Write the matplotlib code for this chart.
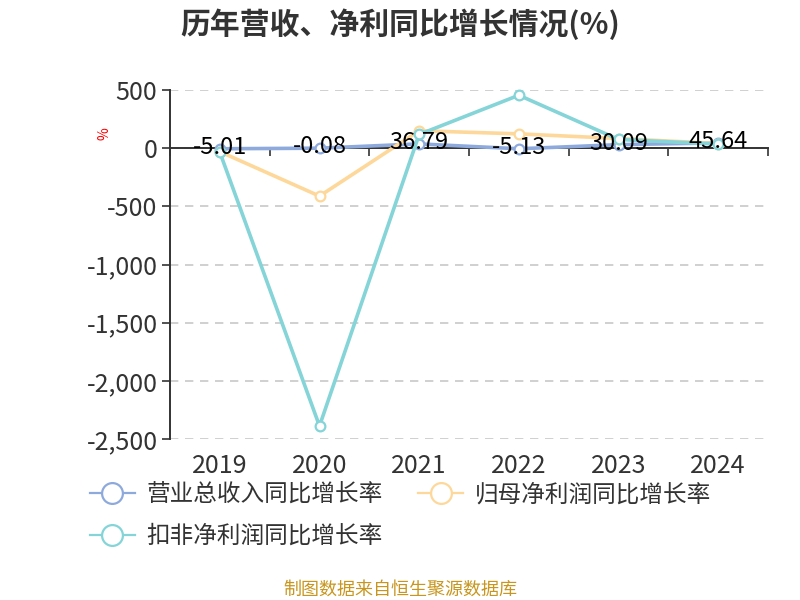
import matplotlib
matplotlib.use("Agg")
import matplotlib.pyplot as plt
from matplotlib.lines import Line2D
from matplotlib.ticker import FuncFormatter, FixedLocator

plt.rcParams['font.family'] = ['Noto Sans CJK SC', 'DejaVu Sans']

years = ['2019', '2020', '2021', '2022', '2023', '2024']
revenue_growth = [-5.01, -0.08, 36.79, -5.13, 30.09, 45.64]
net_profit_growth = [-30, -412, 150, 123, 83, 40]
deducted_profit_growth = [-35, -2388, 118, 455, 75, 35]
series_names = ['营业总收入同比增长率', '归母净利润同比增长率', '扣非净利润同比增长率']
colors = ['#8eaadc', '#fdd89a', '#84d4d8']

fig = plt.figure(figsize=(8, 6), dpi=100)
ax = fig.add_axes([0.2125, 0.2683, 0.7475, 0.5817])

x = list(range(len(years)))
all_series = [revenue_growth, net_profit_growth, deducted_profit_growth]
for i, (vals, col) in enumerate(zip(all_series, colors)):
    ax.plot(x, vals, color=col, lw=2.6, marker='o', markersize=7,
            markerfacecolor='white', markeredgecolor=col, markeredgewidth=1.6,
            zorder=3 + i, clip_on=False)

for xi, v in zip(x, revenue_growth):
    ax.annotate(f'{v:.2f}', (xi, v), xytext=(0, 1), textcoords='offset points',
                ha='center', va='center', fontsize=17, color='black', zorder=10)

ax.set_xlim(-0.5, len(years) - 0.5)
ax.set_ylim(-2500, 500)
ax.yaxis.set_major_locator(FixedLocator([500, 0, -500, -1000, -1500, -2000, -2500]))
ax.yaxis.set_major_formatter(FuncFormatter(lambda v, p: f'{int(v):,}'))
ax.grid(axis='y', color='#c8c8c8', linestyle=(0, (5, 4)), lw=1.2)
ax.set_axisbelow(True)

ax.set_xticks(x)
ax.set_xticklabels(years)
ax.set_xticks([i - 0.5 for i in range(len(years) + 1)], minor=True)
ax.tick_params(axis='x', which='major', bottom=True, top=False, length=0,
               labelsize=18, labelcolor='#333333', pad=10)
ax.tick_params(axis='x', which='minor', bottom=False, top=True, direction='in',
               length=6, width=1.2, color='#333333')
ax.tick_params(axis='y', which='major', length=6, width=1.2, color='#333333',
               labelsize=18, labelcolor='#333333', pad=3)

for s in ['right', 'bottom']:
    ax.spines[s].set_visible(False)
ax.spines['top'].set_position(('data', 0))
ax.spines['top'].set_color('#333333')
ax.spines['top'].set_linewidth(1.4)
ax.spines['left'].set_color('#333333')
ax.spines['left'].set_linewidth(1.4)

fig.text(0.131, 0.778, '%', color='red', fontsize=10, rotation=90, ha='center', va='center')

fig.text(0.5, 0.96, '历年营收、净利同比增长情况(%)', ha='center', va='center',
         fontsize=21.5, fontweight='bold', color='#333333')

handles = [Line2D([0], [0], color=c, lw=1.6, marker='o', markersize=15,
                  markerfacecolor='white', markeredgecolor=c, markeredgewidth=1.6)
           for c in colors]
order = [0, 2, 1]
leg = fig.legend([handles[i] for i in order], [series_names[i] for i in order],
                 ncol=2, loc='upper left', bbox_to_anchor=(0.086, 0.23),
                 frameon=False, fontsize=17, handlelength=1.9, handletextpad=0.5,
                 columnspacing=1.5, labelspacing=0.8, labelcolor='#333333')

fig.text(0.5, 0.017, '制图数据来自恒生聚源数据库', ha='center', va='center',
         fontsize=13, color='#c8961e')

fig.savefig('out.png', dpi=100)
